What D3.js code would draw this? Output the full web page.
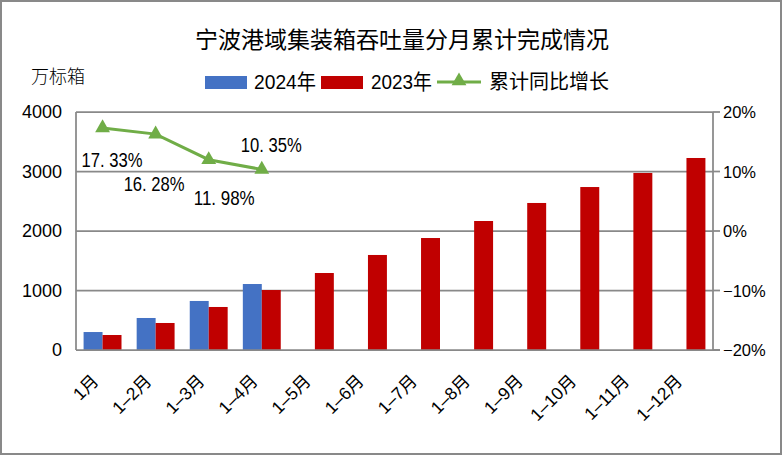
<!DOCTYPE html>
<html>
<head>
<meta charset="utf-8">
<script src="https://cdn.jsdelivr.net/npm/d3@7/dist/d3.min.js"></script>
<style>
  body { margin: 0; background: #fff; }
  svg text { font-family: "Liberation Sans", Arial, "Noto Sans CJK SC", sans-serif; fill: #000; }
</style>
</head>
<body>
<div id="chart"></div>
<script>
// data
const months = ["1月", "1–2月", "1–3月", "1–4月", "1–5月", "1–6月", "1–7月", "1–8月", "1–9月", "1–10月", "1–11月", "1–12月"];
const values2024 = [302, 538, 824, 1109, null, null, null, null, null, null, null, null];
const values2023 = [252, 454, 723, 1008, 1294, 1597, 1882, 2168, 2471, 2739, 2975, 3227];
const growth = [17.33, 16.28, 11.98, 10.35];
const growthLabels = ["17. 33%", "16. 28%", "11. 98%", "10. 35%"];
const leftTicks = [0, 1000, 2000, 3000, 4000];
const rightTicks = [-20, -10, 0, 10, 20];

const width = 782, height = 456;
const plotLeft = 76, plotRight = 713, plotTop = 112, plotBottom = 350;
const gray = "#898989";
const blue = "#4472C4", red = "#C00000", green = "#70AD47";

const svg = d3.select("#chart").append("svg")
    .attr("width", width)
    .attr("height", height);

// outer frame
svg.append("rect")
    .attr("x", 1).attr("y", 1)
    .attr("width", width - 2).attr("height", height - 3)
    .attr("fill", "#fff")
    .attr("stroke", gray)
    .attr("stroke-width", 2);

const x = d3.scaleBand().domain(months).range([plotLeft, plotRight]);
const x1 = d3.scaleBand().domain(["2024", "2023"]).range([0, x.bandwidth()]).paddingOuter(0.4);
const y = d3.scaleLinear().domain([0, 4000]).range([plotBottom, plotTop]);
const y2 = d3.scaleLinear().domain([-20, 20]).range([plotBottom, plotTop]);

// gridlines
svg.append("g")
    .selectAll("line")
    .data(leftTicks.slice(1))
    .join("line")
    .attr("x1", plotLeft).attr("x2", plotRight)
    .attr("y1", d => y(d)).attr("y2", d => y(d))
    .attr("stroke", gray)
    .attr("stroke-width", 1.75);

// left axis
svg.append("line")
    .attr("x1", plotLeft).attr("x2", plotLeft)
    .attr("y1", plotTop).attr("y2", plotBottom)
    .attr("stroke", gray).attr("stroke-width", 1.75);

svg.append("g")
    .selectAll("text")
    .data(leftTicks)
    .join("text")
    .attr("x", 62)
    .attr("y", d => y(d) + 6)
    .attr("text-anchor", "end")
    .attr("font-size", 18)
    .text(d => d);

// bars
const barG = svg.append("g");
barG.selectAll("rect.b24")
    .data(months.map((m, i) => ({ m, v: values2024[i] })).filter(d => d.v != null))
    .join("rect")
    .attr("class", "b24")
    .attr("x", d => x(d.m) + x1("2024"))
    .attr("width", x1.bandwidth())
    .attr("y", d => y(d.v))
    .attr("height", d => y(0) - y(d.v))
    .attr("fill", blue);

barG.selectAll("rect.b23")
    .data(months.map((m, i) => ({ m, v: values2023[i] })))
    .join("rect")
    .attr("class", "b23")
    .attr("x", d => x(d.m) + x1("2023"))
    .attr("width", x1.bandwidth())
    .attr("y", d => y(d.v))
    .attr("height", d => y(0) - y(d.v))
    .attr("fill", red);

// bottom axis line
svg.append("line")
    .attr("x1", plotLeft).attr("x2", plotRight + 7)
    .attr("y1", plotBottom).attr("y2", plotBottom)
    .attr("stroke", gray).attr("stroke-width", 1.75);

// right axis
svg.append("line")
    .attr("x1", plotRight).attr("x2", plotRight)
    .attr("y1", plotTop).attr("y2", plotBottom)
    .attr("stroke", gray).attr("stroke-width", 1.75);

svg.append("g")
    .selectAll("line")
    .data(rightTicks)
    .join("line")
    .attr("x1", plotRight).attr("x2", plotRight + 7)
    .attr("y1", d => y2(d)).attr("y2", d => y2(d))
    .attr("stroke", gray).attr("stroke-width", 1.75);

svg.append("g")
    .selectAll("text")
    .data(rightTicks)
    .join("text")
    .attr("x", plotRight + 10)
    .attr("y", d => y2(d) + 6)
    .attr("font-size", 16.5)
    .text(d => d3.format("d")(d) + "%");

// x labels, rotated
svg.append("g")
    .selectAll("text")
    .data(months)
    .join("text")
    .attr("transform", d => `translate(${x(d) + x.bandwidth() / 2 - 3},${plotBottom + 32}) rotate(-45)`)
    .attr("text-anchor", "end")
    .attr("font-size", 17.5)
    .text(d => d);

// growth line
const cx = i => x(months[i]) + x.bandwidth() / 2;
const line = d3.line()
    .x((d, i) => cx(i))
    .y(d => y2(d));

svg.append("path")
    .datum(growth)
    .attr("d", line)
    .attr("fill", "none")
    .attr("stroke", green)
    .attr("stroke-width", 3);

const tri = d3.symbol().type(d3.symbolTriangle).size(95);
svg.append("g")
    .selectAll("path")
    .data(growth)
    .join("path")
    .attr("transform", (d, i) => `translate(${cx(i)},${y2(d)})`)
    .attr("d", tri)
    .attr("fill", green);

// label offsets from each point (dx to text start, dy to baseline); tall narrow text
const labelOffsets = [[-21, 39], [-32, 57], [-15, 45], [-21, -17]];
svg.append("g")
    .selectAll("text")
    .data(growth)
    .join("text")
    .attr("x", (d, i) => cx(i) + labelOffsets[i][0])
    .attr("y", (d, i) => y2(d) + labelOffsets[i][1])
    .attr("font-size", 20)
    .attr("textLength", 61)
    .attr("lengthAdjust", "spacingAndGlyphs")
    .text((d, i) => growthLabels[i]);

// title
svg.append("text")
    .attr("x", 402)
    .attr("y", 48)
    .attr("text-anchor", "middle")
    .attr("font-size", 23)
    .attr("font-family", "'Noto Sans CJK SC', sans-serif")
    .text("宁波港域集装箱吞吐量分月累计完成情况");

svg.append("text")
    .attr("x", 31)
    .attr("y", 83)
    .attr("font-size", 18)
    .attr("font-family", "'Noto Sans CJK SC', sans-serif")
    .attr("font-weight", 300)
    .text("万标箱");

// legend
const leg = svg.append("g");
leg.append("rect").attr("x", 205).attr("y", 76).attr("width", 42).attr("height", 13).attr("fill", blue);
leg.append("text").attr("x", 254).attr("y", 89).attr("font-size", 21)
    .attr("textLength", 62).attr("lengthAdjust", "spacingAndGlyphs").text("2024年");
leg.append("rect").attr("x", 321).attr("y", 76).attr("width", 42).attr("height", 13).attr("fill", red);
leg.append("text").attr("x", 371).attr("y", 89).attr("font-size", 21)
    .attr("textLength", 61).attr("lengthAdjust", "spacingAndGlyphs").text("2023年");
leg.append("line").attr("x1", 437).attr("x2", 481).attr("y1", 82).attr("y2", 82)
    .attr("stroke", green).attr("stroke-width", 3);
leg.append("path").attr("transform", "translate(459,81)").attr("d", tri).attr("fill", green);
leg.append("text").attr("x", 489).attr("y", 89).attr("font-size", 20)
    .attr("font-family", "'Noto Sans CJK SC', sans-serif")
    .text("累计同比增长");
</script>
</body>
</html>
